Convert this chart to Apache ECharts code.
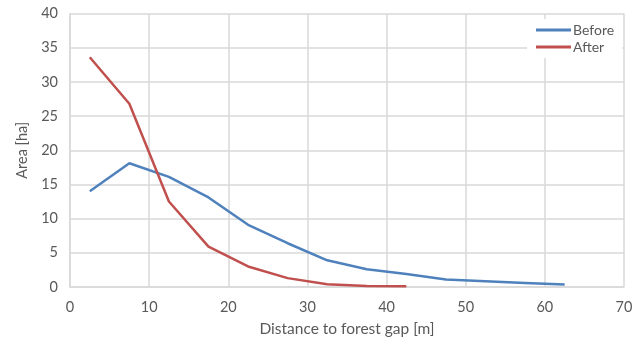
<!DOCTYPE html>
<html>
<head>
<meta charset="utf-8">
<script src="https://cdn.jsdelivr.net/npm/echarts@6/dist/echarts.min.js"></script>
<style>
  html, body { margin: 0; padding: 0; background: #ffffff; }
  #chart { width: 643px; height: 344px; }
</style>
</head>
<body>
<div id="chart"></div>
<script>
// Distance classes (bin centres, m)
const distBefore = [2.5, 7.5, 12.5, 17.5, 22.5, 27.5, 32.5, 37.5, 42.5, 47.5, 52.5, 57.5, 62.5];
const areaBefore = [14.0, 18.1, 16.1, 13.1, 9.1, 6.4, 3.9, 2.6, 1.9, 1.1, 0.85, 0.6, 0.35];
const distAfter = [2.5, 7.5, 12.5, 17.5, 22.5, 27.5, 32.5, 37.5, 42.5];
const areaAfter = [33.6, 26.8, 12.5, 5.9, 3.0, 1.3, 0.4, 0.15, 0.1];
const seriesNames = ['Before', 'After'];
const seriesColors = ['#4f81bd', '#c0504d'];

const pairs = (xs, ys) => xs.map((x, i) => [x, ys[i]]);

const textColor = '#595959';
const gridColor = '#d9d9d9';
const fontFamily = 'Lato, "Open Sans", sans-serif';

const chart = echarts.init(document.getElementById('chart'));
chart.setOption({
  animation: false,
  backgroundColor: '#ffffff',
  grid: { left: 70, right: 19, top: 13.5, bottom: 57, containLabel: false },
  legend: {
    orient: 'vertical',
    left: 527,
    top: 19,
    padding: [4, 8, 4, 9],
    backgroundColor: '#ffffff',
    itemGap: 3,
    itemWidth: 35,
    itemHeight: 3,
    icon: 'rect',
    textStyle: { color: textColor, fontFamily: fontFamily, fontSize: 14, lineHeight: 13, padding: [0, 0, 0, -3] },
    data: seriesNames
  },
  xAxis: {
    type: 'value',
    min: 0, max: 70, interval: 10,
    name: 'Distance to forest gap [m]',
    nameLocation: 'middle',
    nameGap: 34,
    nameTextStyle: { color: textColor, fontFamily: fontFamily, fontSize: 15.5 },
    axisLine: { show: true, lineStyle: { color: gridColor, width: 1.5 } },
    axisTick: { show: false },
    axisLabel: { color: textColor, fontFamily: fontFamily, fontSize: 14.5, margin: 13 },
    splitLine: { show: true, lineStyle: { color: gridColor, width: 1.5 } }
  },
  yAxis: {
    type: 'value',
    min: 0, max: 40, interval: 5,
    name: 'Area [ha]',
    nameLocation: 'middle',
    nameGap: 38,
    nameTextStyle: { color: textColor, fontFamily: fontFamily, fontSize: 14.5 },
    axisLine: { show: true, lineStyle: { color: gridColor, width: 1.5 } },
    axisTick: { show: false },
    axisLabel: { color: textColor, fontFamily: fontFamily, fontSize: 14.5, margin: 12 },
    splitLine: { show: true, lineStyle: { color: gridColor, width: 1.5 } }
  },
  series: [
    {
      name: seriesNames[0], type: 'line', data: pairs(distBefore, areaBefore),
      showSymbol: false, symbol: 'none', smooth: false,
      lineStyle: { color: seriesColors[0], width: 2.5 }, itemStyle: { color: seriesColors[0] }
    },
    {
      name: seriesNames[1], type: 'line', data: pairs(distAfter, areaAfter),
      showSymbol: false, symbol: 'none', smooth: false,
      lineStyle: { color: seriesColors[1], width: 2.5 }, itemStyle: { color: seriesColors[1] }
    }
  ]
});
</script>
</body>
</html>
